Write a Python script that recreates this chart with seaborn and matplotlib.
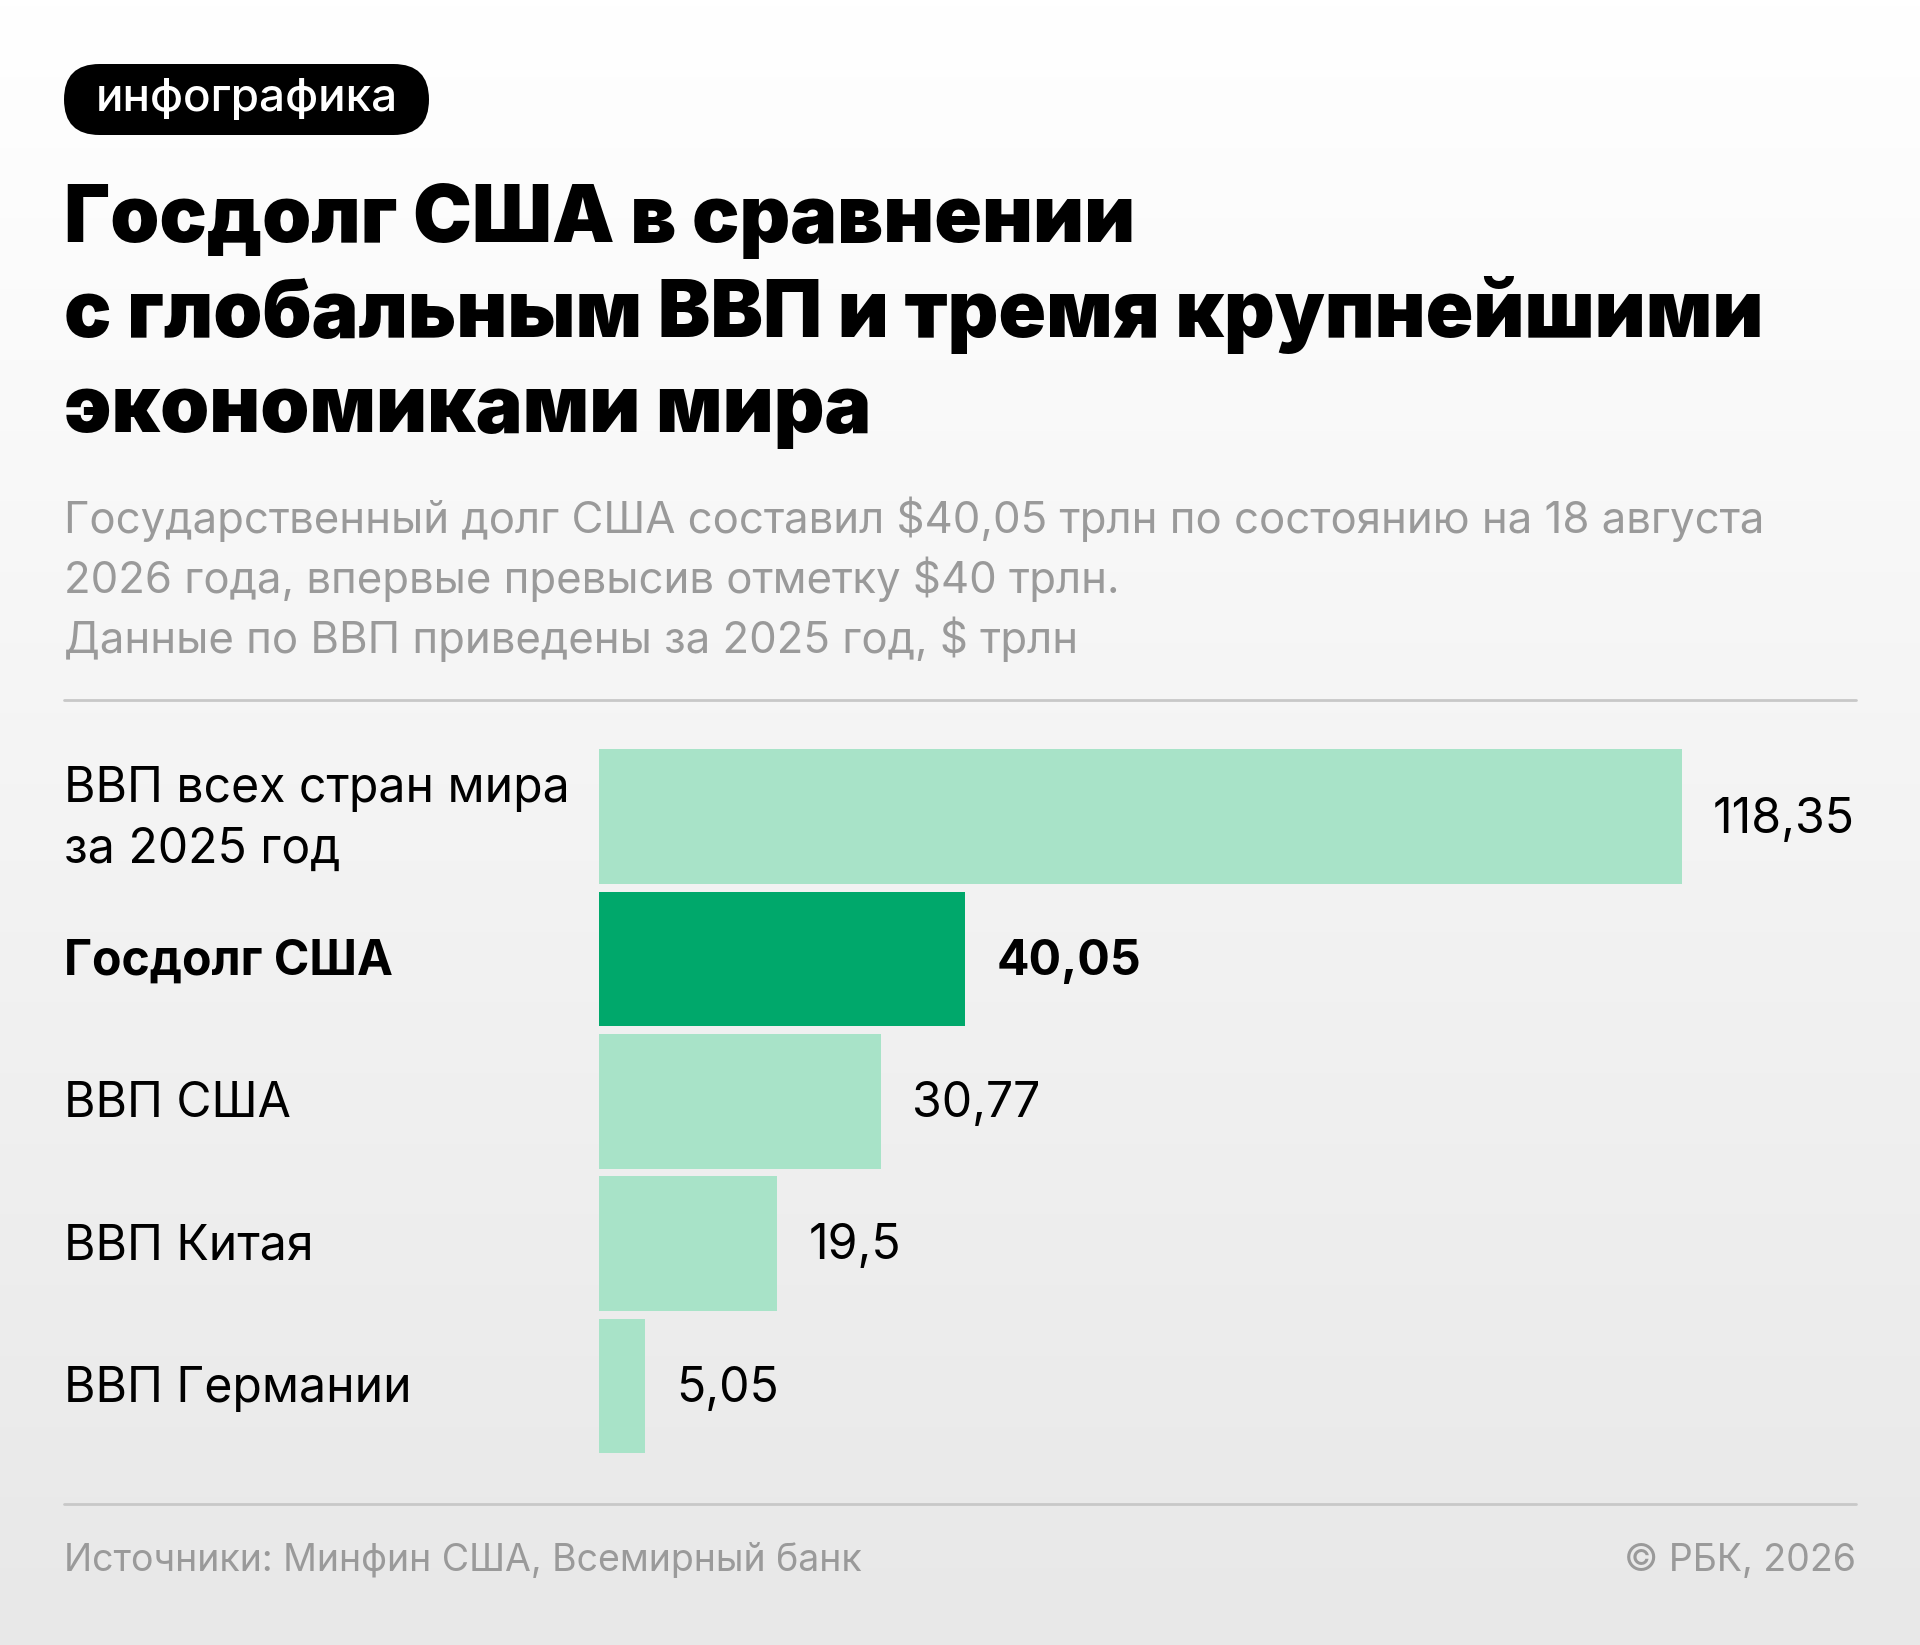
import numpy as np
import matplotlib.pyplot as plt
import seaborn as sns
from matplotlib.patches import FancyBboxPatch
from matplotlib.colors import LinearSegmentedColormap
from matplotlib.transforms import blended_transform_factory

# data
categories = ["ВВП всех стран мира\nза 2025 год", "Госдолг США", "ВВП США", "ВВП Китая", "ВВП Германии"]
values = [118.35, 40.05, 30.77, 19.5, 5.05]
highlight = [False, True, False, False, False]

title_lines = ["Госдолг США в сравнении", "с глобальным ВВП и тремя крупнейшими", "экономиками мира"]
subtitle_lines = [
    "Государственный долг США составил $40,05 трлн по состоянию на 18 августа",
    "2026 года, впервые превысив отметку $40 трлн.",
    "Данные по ВВП приведены за 2025 год, $ трлн",
]
source = "Источники: Минфин США, Всемирный банк"
copyright_text = "© РБК, 2026"

LIGHT = "#a8e3c8"
DARK = "#00a86b"
GREY = "#9a9a9a"

sns.set_theme(style="white")
plt.rcParams['font.family'] = ['Inter', 'DejaVu Sans']

W, H = 1920, 1645
fig = plt.figure(figsize=(W / 100, H / 100), dpi=100)

# background axes in pixel coords
bg = fig.add_axes([0, 0, 1, 1])
bg.set_xlim(0, W)
bg.set_ylim(H, 0)
bg.axis('off')
grad = np.linspace(0, 1, 256).reshape(-1, 1)
bg.imshow(grad, extent=[0, W, H, 0], aspect='auto',
          cmap=LinearSegmentedColormap.from_list('bg', ['#ffffff', '#e8e8e8']), zorder=0)

# pill
pill = FancyBboxPatch((64, 64), 365, 71, boxstyle="round,pad=0,rounding_size=35.5",
                      fc='black', ec='none', zorder=2)
bg.add_patch(pill)
bg.text(246.5, 99, "инфографика", color='white', fontsize=33, fontweight='medium',
        ha='center', va='center', zorder=3)

# title
for i, line in enumerate(title_lines):
    bg.text(64, 242 + i * 95, line, fontsize=56.7, fontweight='black', color='black',
            ha='left', va='baseline')

# subtitle
for i, line in enumerate(subtitle_lines):
    bg.text(64, 533 + i * 60, line, fontsize=31.5, color=GREY, ha='left', va='baseline')

# separators
bg.plot([64, 1856], [700, 700], color='#c8c8c8', lw=2)
bg.plot([64, 1856], [1504, 1504], color='#c8c8c8', lw=2)

# footer
bg.text(64, 1571, source, fontsize=27, color=GREY, ha='left', va='baseline')
bg.text(1856, 1571, copyright_text, fontsize=27, color=GREY, ha='right', va='baseline')

# bar chart
px_per_unit = 9.15
ax_left, ax_right = 599, 1856
pitch = 142.3
center0 = 816.7
ax_top = center0 - pitch / 2
ax_h = pitch * len(values)
ax = fig.add_axes([ax_left / W, 1 - (ax_top + ax_h) / H, (ax_right - ax_left) / W, ax_h / H])
ax.patch.set_alpha(0)
palette = [DARK if h else LIGHT for h in highlight]
sns.barplot(x=values, y=categories, hue=categories, palette=palette, legend=False,
            orient='h', width=0.946, ax=ax, saturation=1, linewidth=0)
ax.set_xlim(0, (ax_right - ax_left) / px_per_unit)
ax.set_ylim(len(values) - 0.5, -0.5)
ax.axis('off')

trans = blended_transform_factory(fig.transFigure, ax.transData)
for i, (cat, v, h) in enumerate(zip(categories, values, highlight)):
    wt = 'bold' if h else 'normal'
    ax.text(64 / W, i + 0.02, cat, transform=trans, fontsize=34.7, fontweight=wt, color='black',
            ha='left', va='center', linespacing=1.42)
    lbl = str(v).replace('.', ',')
    ax.annotate(lbl, (v, i + 0.02), xytext=(31, 0), textcoords='offset pixels', fontsize=34.7,
                fontweight=wt, color='black', ha='left', va='center')

fig.savefig("out.png", dpi=100)
